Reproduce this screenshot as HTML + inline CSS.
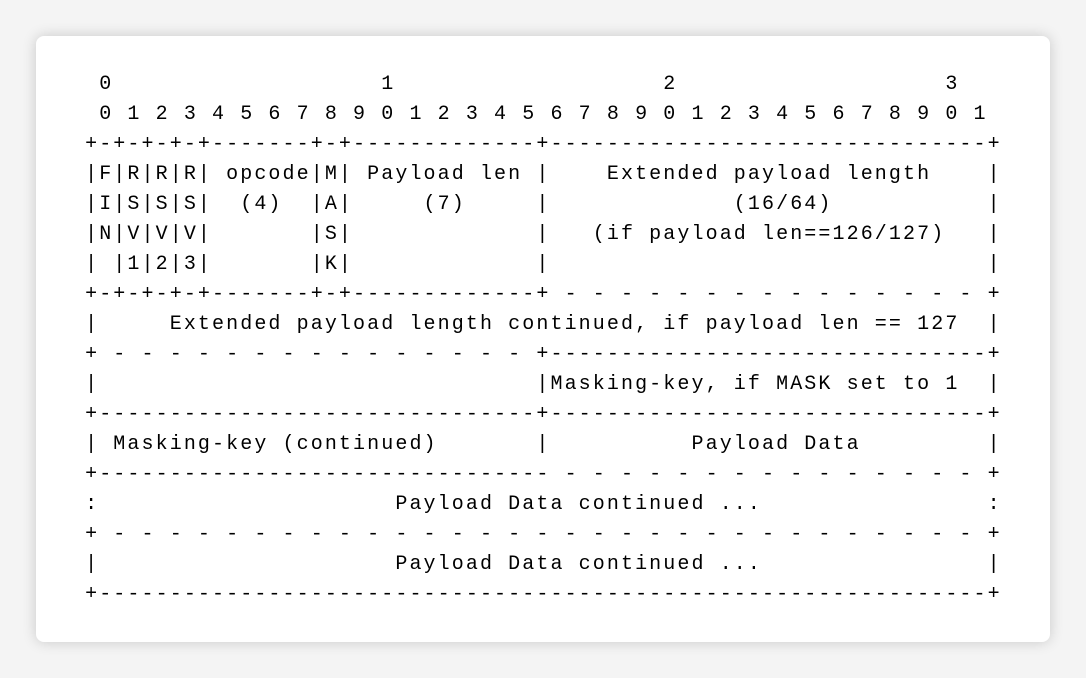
<!DOCTYPE html>
<html><head><meta charset="utf-8"><style>
html,body{margin:0;padding:0;width:1086px;height:678px;background:#f4f4f4;overflow:hidden}
.card{position:absolute;left:36px;top:36px;width:1014px;height:606px;background:#fff;border-radius:8px;box-shadow:0 0 14px rgba(0,0,0,0.18)}
pre{position:absolute;left:71px;top:70px;margin:0;font-family:"Liberation Mono",monospace;font-size:20px;letter-spacing:2.1px;line-height:30px;color:#000}
</style></head><body>
<div class="card"></div>
<pre>  0                   1                   2                   3
  0 1 2 3 4 5 6 7 8 9 0 1 2 3 4 5 6 7 8 9 0 1 2 3 4 5 6 7 8 9 0 1
 +-+-+-+-+-------+-+-------------+-------------------------------+
 |F|R|R|R| opcode|M| Payload len |    Extended payload length    |
 |I|S|S|S|  (4)  |A|     (7)     |             (16/64)           |
 |N|V|V|V|       |S|             |   (if payload len==126/127)   |
 | |1|2|3|       |K|             |                               |
 +-+-+-+-+-------+-+-------------+ - - - - - - - - - - - - - - - +
 |     Extended payload length continued, if payload len == 127  |
 + - - - - - - - - - - - - - - - +-------------------------------+
 |                               |Masking-key, if MASK set to 1  |
 +-------------------------------+-------------------------------+
 | Masking-key (continued)       |          Payload Data         |
 +-------------------------------- - - - - - - - - - - - - - - - +
 :                     Payload Data continued ...                :
 + - - - - - - - - - - - - - - - - - - - - - - - - - - - - - - - +
 |                     Payload Data continued ...                |
 +---------------------------------------------------------------+</pre>
</body></html>
